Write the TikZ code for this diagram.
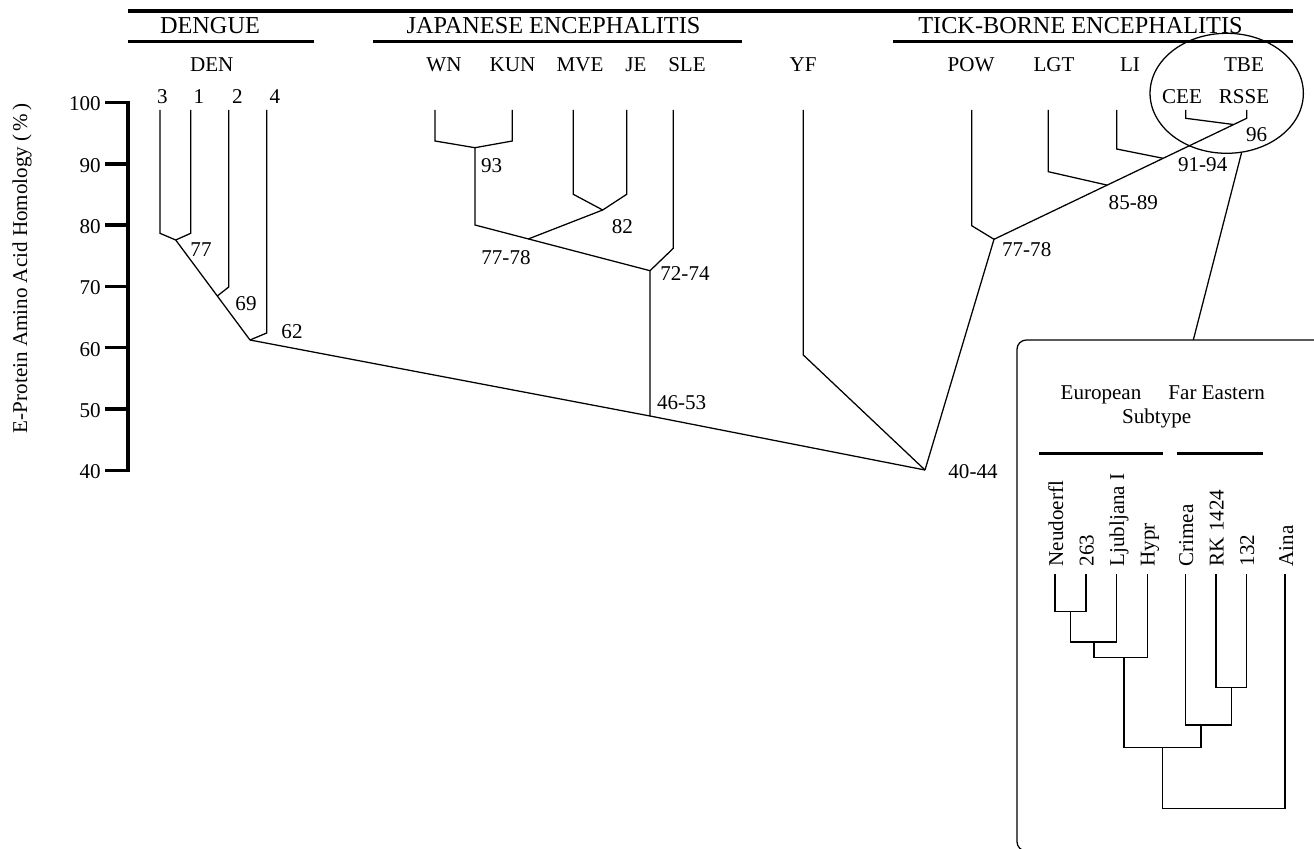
\documentclass[tikz,border=0pt]{standalone}
\usepackage{fontspec}
\setmainfont{Liberation Serif}
\usetikzlibrary{shapes.geometric,calc}
\begin{document}
\begin{tikzpicture}[x=0.75pt,y=-0.75pt,
  branch/.style={line width=0.95pt, line join=miter},
  rule/.style={line width=2.3pt},
  axisline/.style={line width=2.6pt},
  lab/.style={font=\fontsize{15.8}{18}\selectfont, inner sep=0pt},
  ttl/.style={font=\fontsize{18.2}{21}\selectfont, inner sep=0pt},
  vlab/.style={lab, rotate=90, anchor=base west}]
\useasboundingbox (0,0) rectangle (1314,849);
\clip (0,0) rectangle (1314,849);

% ---------- header rules and titles ----------
\coordinate (topL) at (128,11);  \coordinate (topR) at (1293,11);
\draw[rule] (topL) -- (topR);
\coordinate (dgL) at (128,41.7); \coordinate (dgR) at (314,41.7);
\coordinate (jeL) at (373,41.7); \coordinate (jeR) at (742,41.7);
\coordinate (tbL) at (893,41.7); \coordinate (tbR) at (1293,41.7);
\draw[rule] (dgL) -- (dgR);
\draw[rule] (jeL) -- (jeR);
\draw[rule] (tbL) -- (tbR);
\node[ttl, anchor=base] (tDEN) at (210,33.3) {DENGUE};
\node[ttl, anchor=base] (tJE) at (553.5,33.3) {JAPANESE ENCEPHALITIS};
\node[ttl, anchor=base] (tTBE) at (1080.5,33.3) {TICK-BORNE ENCEPHALITIS};

% ---------- virus labels ----------
\node[lab, anchor=base] (lDEN) at (211.7,71.7) {DEN};
\node[lab, anchor=base] (lWN)  at (444,71.7) {WN};
\node[lab, anchor=base] (lKUN) at (512.5,71.7) {KUN};
\node[lab, anchor=base] (lMVE) at (580,71.7) {MVE};
\node[lab, anchor=base] (lJE)  at (636,71.7) {JE};
\node[lab, anchor=base] (lSLE) at (687,71.7) {SLE};
\node[lab, anchor=base] (lYF)  at (803,71.7) {YF};
\node[lab, anchor=base] (lPOW) at (971,71.7) {POW};
\node[lab, anchor=base] (lLGT) at (1054,71.7) {LGT};
\node[lab, anchor=base] (lLI)  at (1130,71.7) {LI};
\node[lab, anchor=base] (lTBE) at (1244,71.7) {TBE};
\node[lab, anchor=base] (lCEE) at (1182,103.3) {CEE};
\node[lab, anchor=base] (lRSSE) at (1244,103.3) {RSSE};
\node[lab, anchor=base] (lD3) at (162.5,103.3) {3};
\node[lab, anchor=base] (lD1) at (199,103.3) {1};
\node[lab, anchor=base] (lD2) at (237.5,103.3) {2};
\node[lab, anchor=base] (lD4) at (275,103.3) {4};

% ---------- axis ----------
\coordinate (axTop) at (128,102.5); \coordinate (axBot) at (128,470.3);
\draw[axisline, line cap=rect] (axTop) -- (axBot);
\foreach \v in {100,90,...,40}{
  \pgfmathsetmacro\yy{102.5+6.13*(100-\v)}
  \coordinate (tick\v) at (128,\yy);
  \coordinate (tickL\v) at (105,\yy);
  \draw[axisline] (tickL\v) -- (tick\v);
  \node[lab, anchor=east] (tlab\v) at (101,\yy+1.5) {\v};
}
\node[lab, rotate=90, anchor=base] (axTitle) at (27,268) {E-Protein Amino Acid Homology (\,\%\,)};

% ---------- DEN tree ----------
\coordinate (d3t) at (160,110);   \coordinate (d3b) at (160,233.3);
\coordinate (d1t) at (190.7,110); \coordinate (d1b) at (190.7,233.3);
\coordinate (d2t) at (228.7,110); \coordinate (d2b) at (228.7,287);
\coordinate (d4t) at (266.7,110); \coordinate (d4b) at (266.7,333);
\coordinate (n77) at (175.7,240);
\coordinate (n62) at (250,340);
\coordinate (n69) at ($(n77)!0.56!(n62)$);
\draw[branch] (d3t) -- (d3b) -- (n77);
\draw[branch] (d1t) -- (d1b) -- (n77);
\draw[branch] (n77) -- (n62);
\draw[branch] (d2t) -- (d2b) -- (n69);
\draw[branch] (d4t) -- (d4b) -- (n62);
\node[lab] (v77) at (201,250) {77};
\node[lab] (v69) at (246,304) {69};
\node[lab] (v62) at (292,332) {62};

% ---------- JE tree ----------
\coordinate (wnT) at (435,110);   \coordinate (wnB) at (435,141);
\coordinate (kuT) at (512.3,110); \coordinate (kuB) at (512.3,141);
\coordinate (n93) at (475,147.7); \coordinate (n93b) at (475,225);
\coordinate (mvT) at (573.3,110); \coordinate (mvB) at (573.3,194.3);
\coordinate (jeT) at (626.7,110); \coordinate (jeB) at (626.7,194.3);
\coordinate (n82) at (602.7,210);
\coordinate (n7274) at (650,270.7);
\coordinate (n7778a) at ($(n93b)!0.305!(n7274)$);
\coordinate (slT) at (673.3,110); \coordinate (slB) at (673.3,248.3);
\coordinate (n4653) at (650,416);
\draw[branch] (wnT) -- (wnB) -- (n93);
\draw[branch] (kuT) -- (kuB) -- (n93);
\draw[branch] (n93) -- (n93b) -- (n7274);
\draw[branch] (mvT) -- (mvB) -- (n82);
\draw[branch] (jeT) -- (jeB) -- (n82);
\draw[branch] (n82) -- (n7778a);
\draw[branch] (slT) -- (slB) -- (n7274) -- (n4653);
\node[lab] (v93) at (491.7,165.7) {93};
\node[lab] (v82) at (622.3,226.7) {82};
\node[lab] (v7778a) at (506,257.3) {77-78};
\node[lab] (v7274) at (685,273.3) {72-74};
\node[lab] (v4653) at (681.7,402.7) {46-53};

% ---------- root ----------
\coordinate (n4044) at (925,470);
\draw[branch] (n62) -- (n4653) -- (n4044);
\coordinate (yfT) at (803.3,110); \coordinate (yfB) at (803.3,355);
\draw[branch] (yfT) -- (yfB) -- (n4044);
\node[lab] (v4044) at (973,471.7) {40-44};

% ---------- TBE tree ----------
\coordinate (n7778b) at (994,239.3);
\coordinate (rsT) at (1246.7,110); \coordinate (rsB) at (1246.7,118.3);
\coordinate (n8589) at ($(n7778b)!0.4478!(rsB)$);
\coordinate (n9194) at ($(n7778b)!0.6694!(rsB)$);
\coordinate (n96) at ($(n7778b)!0.9486!(rsB)$);
\coordinate (poT) at (971.7,110); \coordinate (poB) at (971.7,225.7);
\coordinate (lgT) at (1048.3,110); \coordinate (lgB) at (1048.3,171.7);
\coordinate (liT) at (1116.7,110); \coordinate (liB) at (1116.7,149);
\coordinate (ceT) at (1185.7,110); \coordinate (ceB) at (1185.7,118.3);
\draw[branch] (n4044) -- (n7778b);
\draw[branch] (poT) -- (poB) -- (n7778b);
\draw[branch] (n7778b) -- (rsB) -- (rsT);
\draw[branch] (lgT) -- (lgB) -- (n8589);
\draw[branch] (liT) -- (liB) -- (n9194);
\draw[branch] (ceT) -- (ceB) -- (n96);
\node[lab] (v7778b) at (1026.7,249.3) {77-78};
\node[lab] (v8589) at (1133.3,202.3) {85-89};
\node[lab] (v9194) at (1202.7,165) {91-94};
\node[lab] (v96) at (1256.7,135) {96};

% ---------- ellipse and inset ----------
\node[draw, ellipse, line width=0.95pt, minimum width=115pt, minimum height=90pt, inner sep=0pt] (tbeEll) at (1226.7,93.3) {};
\coordinate (boxTop) at (1193.3,340);
\draw[branch] (tbeEll.-76) -- (boxTop);
\draw[branch, rounded corners=7pt] (1017,340) rectangle (1340,851);

\node[lab, anchor=base] (eu) at (1101,399) {European};
\node[lab, anchor=base] (fe) at (1216.7,399) {Far Eastern};
\node[lab, anchor=base] (st) at (1156.7,423) {Subtype};
\coordinate (euL) at (1039.3,453.3); \coordinate (euR) at (1163.3,453.3);
\coordinate (feL) at (1176.7,453.3); \coordinate (feR) at (1263.3,453.3);
\draw[rule] (euL) -- (euR);
\draw[rule] (feL) -- (feR);

\node[vlab] (sNe) at (1063,566.7) {Neudoerfl};
\node[vlab] (s263) at (1093.5,566.7) {263};
\node[vlab] (sLj) at (1124,566.7) {Ljubljana I};
\node[vlab] (sHy) at (1154.5,566.7) {Hypr};
\node[vlab] (sCr) at (1193,566.7) {Crimea};
\node[vlab] (sRK) at (1223.5,566.7) {RK 1424};
\node[vlab] (s132) at (1254,566.7) {132};
\node[vlab] (sAi) at (1293,566.7) {Aina};

\coordinate (cNe) at (1055,574);   \coordinate (c263) at (1086,574);
\coordinate (cLj) at (1116.7,574); \coordinate (cHy) at (1147.3,574);
\coordinate (cCr) at (1185.7,574); \coordinate (cRK) at (1216,574);
\coordinate (c132) at (1246.7,574); \coordinate (cAi) at (1285,574);
\draw[branch] (cNe) |- (1070.7,611.7) -| (c263);
\draw[branch] (1070.7,611.7) |- (1094,642) -| (cLj);
\draw[branch] (1094,642) |- (1124,657.3) -| (cHy);
\draw[branch] (cRK) |- (1231.7,687.7) -| (c132);
\draw[branch] (cCr) |- (1201,725) -| (1231.7,687.7);
\draw[branch] (1124,657.3) |- (1162.7,747.7) -| (1201,725);
\draw[branch] (1162.7,747.7) |- (1223,808.3) -| (cAi);
\end{tikzpicture}
\end{document}
